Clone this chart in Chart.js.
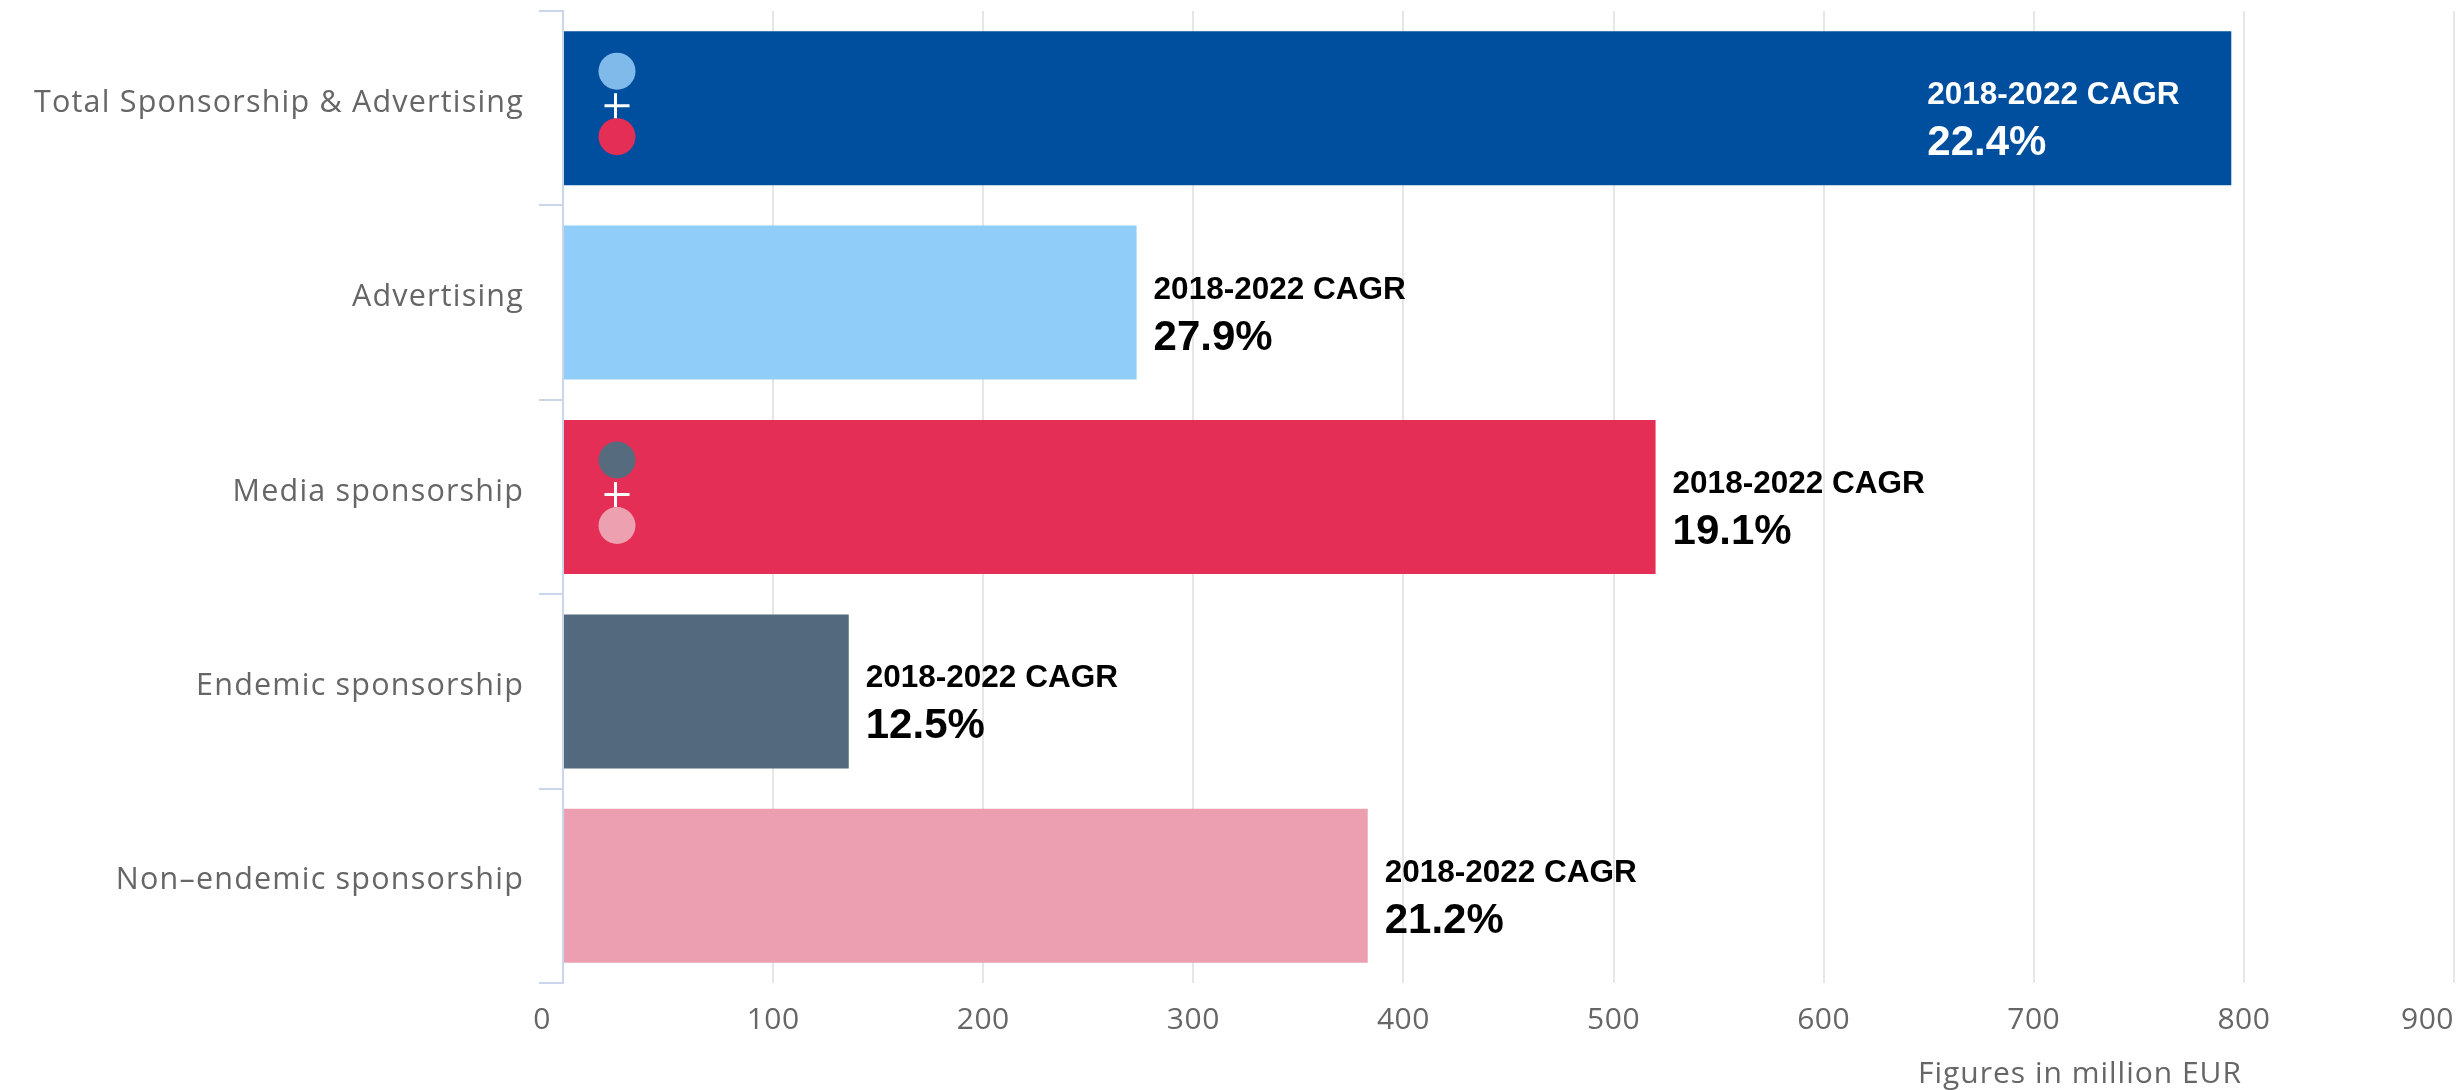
<!DOCTYPE html>
<html><head><meta charset="utf-8">
<script src="https://cdn.jsdelivr.net/npm/chart.js@4/dist/chart.umd.min.js"></script>
<style>html,body{margin:0;padding:0;background:#fff;overflow:hidden}</style>
</head><body>
<canvas id="c" width="2463" height="1090" style="width:2463px;height:1090px;display:block"></canvas>
<script>
const categories = ['Total Sponsorship & Advertising', 'Advertising', 'Media sponsorship', 'Endemic sponsorship', 'Non–endemic sponsorship'];
const values = [794, 273, 520, 136, 383];
const cagrPercent = ['22.4', '27.9', '19.1', '12.5', '21.2'];
const cagrLabel = '2018-2022 CAGR';
const barColors = ['#004f9f', '#90cdf8', '#e52e56', '#53697d', '#eb9fb0'];
const xTickValues = [0, 100, 200, 300, 400, 500, 600, 700, 800, 900];
const axisTitle = 'Figures in million EUR';

const iconColors = { 0: ['#80baea', '#e52e56'], 2: ['#566b7e', '#eca0b0'] };
const AXIS_FONT = '"Open Sans", "Noto Sans", sans-serif';

const overlay = {
  id: 'overlay',
  beforeDraw(chart) {
    chart.ctx.letterSpacing = '1.2px';
  },
  afterDatasetsDraw(chart) {
    const ctx = chart.ctx;
    ctx.letterSpacing = '0px';
    const meta = chart.getDatasetMeta(0);
    const xs = chart.scales.x;
    const x0 = xs.getPixelForValue(0);
    meta.data.forEach((bar, i) => {
      const c = bar.y, end = bar.x;
      const inside = i === 0;
      const tx = inside ? end - 304 : end + 17;
      ctx.save();
      ctx.letterSpacing = '0px';
      ctx.fillStyle = inside ? '#ffffff' : '#000000';
      ctx.textAlign = 'left';
      ctx.textBaseline = 'alphabetic';
      ctx.font = 'bold 31.5px "Liberation Sans", Arial, sans-serif';
      ctx.fillText(cagrLabel, tx, c - 4);
      ctx.font = 'bold 42px "Liberation Sans", Arial, sans-serif';
      ctx.fillText(cagrPercent[i] + '%', tx, c + 47);
      const pair = iconColors[i];
      if (pair) {
        const cx = x0 + 54;
        ctx.fillStyle = pair[0];
        ctx.beginPath(); ctx.arc(cx, c - 37, 18.5, 0, Math.PI * 2); ctx.fill();
        ctx.fillStyle = pair[1];
        ctx.beginPath(); ctx.arc(cx, c + 28.5, 18.5, 0, Math.PI * 2); ctx.fill();
        ctx.strokeStyle = '#ffffff';
        ctx.lineWidth = 3;
        ctx.beginPath();
        ctx.moveTo(cx - 12.5, c - 2.5); ctx.lineTo(cx + 12.5, c - 2.5);
        ctx.moveTo(cx - 1.5, c - 15); ctx.lineTo(cx - 1.5, c + 10);
        ctx.stroke();
      }
      ctx.restore();
    });
  },
  afterDraw(chart) {
    const ctx = chart.ctx;
    const xs = chart.scales.x;
    ctx.save();
    ctx.fillStyle = '#666666';
    ctx.letterSpacing = '0.5px';
    ctx.font = '30px ' + AXIS_FONT;
    ctx.textBaseline = 'alphabetic';
    const n = xs.ticks.length;
    xs.ticks.forEach((t, i) => {
      const px = xs.getPixelForValue(t.value);
      let x = px, align = 'center';
      if (i === 0) { x = px - 12; align = 'right'; }
      else if (i === n - 1) { x = px; align = 'right'; }
      ctx.textAlign = align;
      ctx.fillText(String(t.value), x, xs.top + 46);
    });
    ctx.letterSpacing = '1px';
    ctx.font = '30px ' + AXIS_FONT;
    ctx.textAlign = 'right';
    ctx.fillText(axisTitle, xs.right - 212, xs.top + 100);
    ctx.restore();
    ctx.letterSpacing = '0px';
  }
};

new Chart(document.getElementById('c'), {
  type: 'bar',
  data: {
    labels: categories,
    datasets: [{
      data: values,
      backgroundColor: barColors,
      borderWidth: 0,
      barPercentage: 1,
      categoryPercentage: 0.792
    }]
  },
  options: {
    indexAxis: 'y',
    responsive: false,
    animation: false,
    layout: { padding: { top: 11, right: 9, left: 0, bottom: 0 } },
    plugins: { legend: { display: false }, tooltip: { enabled: false }, title: { display: false } },
    scales: {
      x: {
        type: 'linear',
        min: 0, max: 900,
        afterBuildTicks: (s) => { s.ticks = xTickValues.map(v => ({ value: v })); },
        afterFit: (s) => { s.height = 107; s.paddingLeft = 0; s.paddingRight = 0; },
        grid: { color: '#e6e6e6', lineWidth: 2, drawTicks: false },
        border: { display: false },
        ticks: { display: false }
      },
      y: {
        type: 'category',
        afterFit: (s) => { s.width = 563; s.paddingTop = 0; s.paddingBottom = 0; },
        grid: { drawOnChartArea: false, drawTicks: true, tickLength: 24, color: '#ccd6eb', lineWidth: 2, offset: true },
        border: { display: true, color: '#ccd6eb', width: 2 },
        ticks: { color: '#666666', padding: 15, labelOffset: -5, font: { family: AXIS_FONT, size: 30.5 } }
      }
    }
  },
  plugins: [overlay]
});
</script>
</body></html>
